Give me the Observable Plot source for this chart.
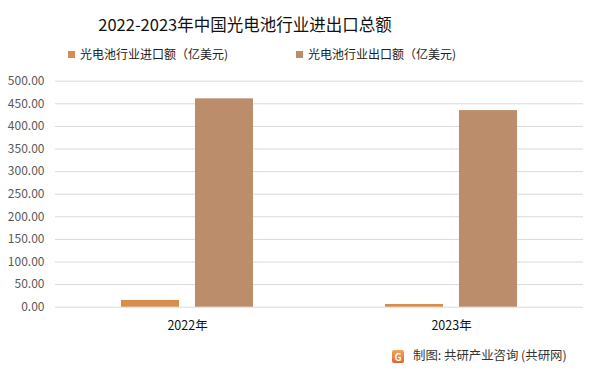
<!DOCTYPE html>
<html>
<head>
<meta charset="utf-8">
<script src="https://cdn.jsdelivr.net/npm/d3@7"></script>
<script src="https://cdn.jsdelivr.net/npm/@observablehq/plot@0.6"></script>
<style>
  html, body { margin: 0; padding: 0; background: #fff; }
  #wrap { position: relative; width: 601px; height: 372px; overflow: hidden; font-family: "Noto Sans CJK SC", "Noto Sans", sans-serif; }
  #chart { position: absolute; left: 0; top: 0; }
  .title { position: absolute; left: 0; width: 490px; top: 12px; text-align: center; font-size: 16.5px; color: #111; }
  .legend { position: absolute; top: 45px; font-size: 12px; color: #222; white-space: nowrap; }
  .legend .sw { display: inline-block; width: 7px; height: 7px; margin-right: 5px; vertical-align: 1px; }
  .caption { position: absolute; left: 392px; top: 346px; font-size: 12.4px; color: #333; white-space: nowrap; }
  .logo { display: inline-block; width: 12px; height: 13px; border-radius: 2px; background: linear-gradient(#f3a45a, #e5622d); color: #fff; font-size: 10px; line-height: 13px; text-align: center; font-weight: bold; margin-right: 9px; vertical-align: -1px; }
</style>
</head>
<body>
<div id="wrap">
  <div id="chart"></div>
  <div class="title">2022-2023年中国光电池行业进出口总额</div>
  <div class="legend" style="left:68px"><span class="sw" style="background:#d68d4d"></span>光电池行业进口额（亿美元)</div>
  <div class="legend" style="left:296px"><span class="sw" style="background:#bc8d6b"></span>光电池行业出口额（亿美元)</div>
  <div class="caption"><span class="logo">G</span>制图: 共研产业咨询 (共研网)</div>
</div>
<script>
const years = ["2022年", "2023年"];
const seriesNames = ["光电池行业进口额（亿美元)", "光电池行业出口额（亿美元)"];
const importValues = [15, 6];
const exportValues = [461, 435];
const seriesColors = ["#d68d4d", "#bc8d6b"];
const yTicks = [0, 50, 100, 150, 200, 250, 300, 350, 400, 450, 500];

const data = [];
years.forEach((y, i) => {
  data.push({year: y, series: seriesNames[0], value: importValues[i]});
  data.push({year: y, series: seriesNames[1], value: exportValues[i]});
});

const chart = Plot.plot({
  width: 601,
  height: 372,
  marginTop: 80.7,
  marginBottom: 65.3,
  marginLeft: 54,
  marginRight: 18,
  style: {fontFamily: "'Noto Sans CJK SC', 'Noto Sans', sans-serif", background: "transparent"},
  fx: {domain: years, padding: 0, label: null},
  x: {domain: seriesNames, paddingInner: 0.2133, paddingOuter: 0.87, axis: null},
  y: {domain: [0, 500], ticks: yTicks, label: null},
  color: {domain: seriesNames, range: seriesColors},
  marks: [
    Plot.gridY(yTicks, {stroke: "#d9d9d9", strokeOpacity: 1, strokeWidth: 1}),
    Plot.axisY(yTicks, {tickSize: 0, tickPadding: 11, tickFormat: d => d.toFixed(2), fontSize: 12, fill: "#595959", label: null}),
    Plot.barY(data, {fx: "year", x: "series", y: "value", fill: "series"}),
    Plot.axisFx({anchor: "bottom", tickSize: 0, tickPadding: 14, fontSize: 12.5, fill: "#111", label: null})
  ]
});
document.getElementById("chart").appendChild(chart);
</script>
</body>
</html>
